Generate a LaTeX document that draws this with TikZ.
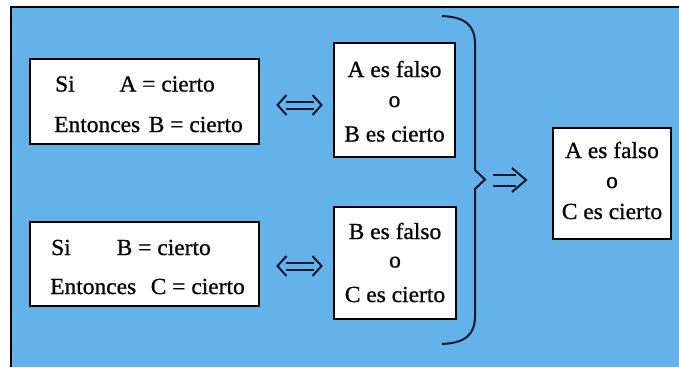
\documentclass[tikz,border=0pt]{standalone}
\usepackage{fontspec}
\setmainfont{Liberation Serif}[FakeStretch=1.02, FakeBold=0.8]
\usetikzlibrary{calc}

\definecolor{panelblue}{RGB}{100,178,234}
\definecolor{inkdark}{RGB}{22,22,45}

\tikzset{
  box/.style 2 args={draw=black, line width=2pt, fill=white, inner sep=0pt,
    minimum width=#1, minimum height=#2},
  txt/.style={inner sep=0pt, font=\fontsize{23}{27}\selectfont},
  symline/.style={draw=inkdark, line width=2pt},
  % long double arrow pointing both ways
  iffsym/.pic={
    \draw[symline] (-14,-3.5) -- (14,-3.5) (-14,3.5) -- (14,3.5);
    \draw[symline, line join=miter] (-13,-10) -- (-22,0) -- (-13,10);
    \draw[symline, line join=miter] (13,-10) -- (22,0) -- (13,10);
  },
  % long double arrow pointing right
  impsym/.pic={
    \draw[symline] (-17,-5.5) -- (6,-5.5) (-17,5.5) -- (6,5.5);
    \draw[symline, line join=miter] (2,-12) -- (16,0) -- (2,12);
  }
}

\begin{document}
\begin{tikzpicture}[x=1pt, y=-1pt]
  \useasboundingbox (0,0) rectangle (679,367);

  % panel with dark top and left rule
  \fill[panelblue] (11,7) rectangle (679,367);
  \draw[black, line width=2pt] (11,367) -- (11,7) -- (679,7);

  % premise boxes
  \node[box={229pt}{85pt}] (p1) at (144.5,101.5) {};
  \node[box={229pt}{84pt}] (p2) at (144.5,264) {};
  \node[txt, anchor=base west] (p1a) at (55,91.5) {Si};
  \node[txt, anchor=base east] (p1b) at (215,91.5) {A = cierto};
  \node[txt, anchor=base west] (p1c) at (54,132) {Entonces};
  \node[txt, anchor=base east] (p1d) at (243,132) {B = cierto};
  \node[txt, anchor=base west] (p2a) at (51,255) {Si};
  \node[txt, anchor=base east] (p2b) at (211,255) {B = cierto};
  \node[txt, anchor=base west] (p2c) at (50,294) {Entonces};
  \node[txt, anchor=base east] (p2d) at (245,294) {C = cierto};

  % equivalent disjunctions
  \node[box={121pt}{114pt}] (d1) at (394.5,100) {};
  \node[txt, anchor=base] (d1a) at (394.5,77) {A es falso};
  \node[txt, anchor=base] (d1b) at (394.5,107) {o};
  \node[txt, anchor=base] (d1c) at (394.5,141.5) {B es cierto};

  \node[box={122pt}{112pt}] (d2) at (395,263) {};
  \node[txt, anchor=base] (d2a) at (395,239) {B es falso};
  \node[txt, anchor=base] (d2b) at (395,267.5) {o};
  \node[txt, anchor=base] (d2c) at (395,302) {C es cierto};

  % conclusion
  \node[box={118pt}{111pt}] (c) at (612,183.5) {};
  \node[txt, anchor=base] (ca) at (612,158) {A es falso};
  \node[txt, anchor=base] (cb) at (612,188) {o};
  \node[txt, anchor=base] (cc) at (612,219) {C es cierto};

  % equivalence and implication signs
  \coordinate (eqA) at (299.5,105);
  \coordinate (eqB) at (299.5,266);
  \coordinate (impl) at (510,180);
  \pic at (eqA) {iffsym};
  \pic at (eqB) {iffsym};
  \pic at (impl) {impsym};

  % right brace grouping both disjunctions
  \draw[symline, line join=miter] (442,16) .. controls (466,17) and (475,26) .. (475,44)
    -- (475,170) -- (485,179.5) -- (475,189) -- (475,316)
    .. controls (475,334) and (466,343) .. (442,344);
\end{tikzpicture}
\end{document}
